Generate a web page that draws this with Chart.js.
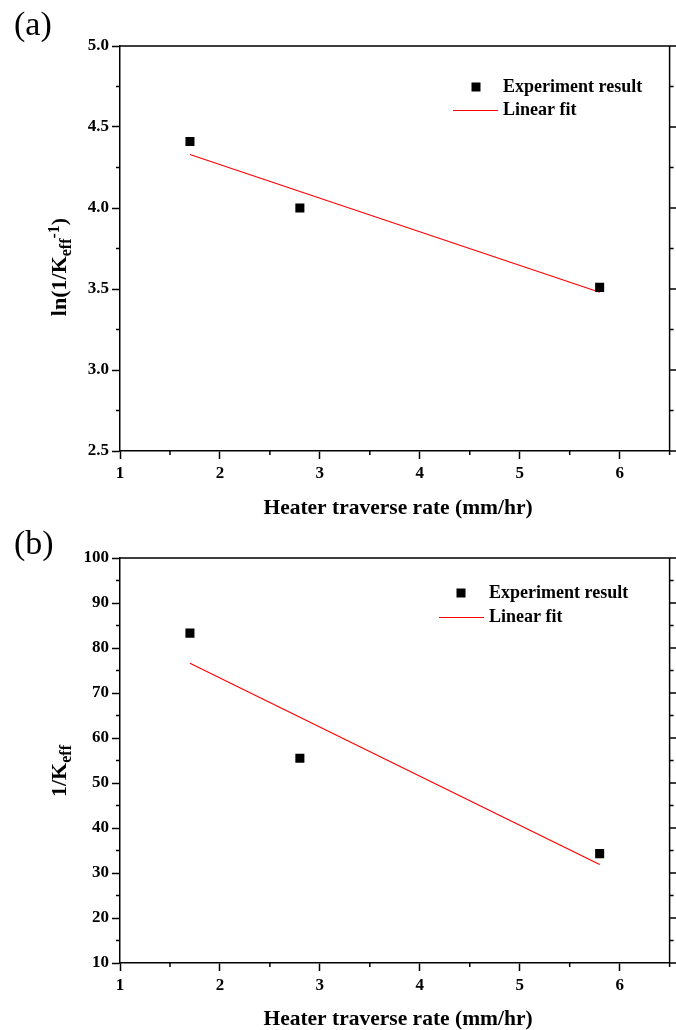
<!DOCTYPE html>
<html>
<head>
<meta charset="utf-8">
<script src="https://cdn.jsdelivr.net/npm/chart.js@4/dist/chart.umd.min.js"></script>
<style>
  body { margin: 0; background: #fff; }
  #wrap { position: relative; width: 676px; height: 1030px; }
  canvas { position: absolute; left: 0; }
</style>
</head>
<body>
<div id="wrap">
  <canvas id="chartA" width="676" height="522" style="top:0"></canvas>
  <canvas id="chartB" width="676" height="508" style="top:522px"></canvas>
</div>
<script>
// values

var rateA = [1.7, 2.8, 5.8];
var lnKA = [4.41, 4.00, 3.51];
var fitRateA = [1.7, 5.8];
var fitLnKA = [4.33, 3.48];

var rateB = [1.7, 2.8, 5.8];
var invKB = [83.3, 55.5, 34.3];
var fitRateB = [1.7, 5.8];
var fitInvKB = [76.6, 31.9];

var xTitle = "Heater traverse rate (mm/hr)";
var seriesLabels = ["Experiment result", "Linear fit"];

var SERIF = "'Liberation Serif', 'Times New Roman', serif";
Chart.defaults.font.family = SERIF;
Chart.defaults.color = "#000";

function pts(xs, ys) {
  return xs.map(function (x, i) { return { x: x, y: ys[i] }; });
}

// frame on top/right plus minor ticks
var frameTicks = {
  id: "frameTicks",
  afterDraw: function (chart, args, o) {
    var ctx = chart.ctx, a = chart.chartArea, x = chart.scales.x, y = chart.scales.y;
    ctx.save();
    ctx.strokeStyle = "#000";
    ctx.lineWidth = 1.5;
    ctx.beginPath();
    ctx.moveTo(a.left, a.top); ctx.lineTo(a.right, a.top); ctx.lineTo(a.right, a.bottom);
    function each(scale, minor, major, fn) {
      var n = Math.round((scale.max - scale.min) / minor);
      for (var i = 0; i <= n; i++) {
        var v = scale.min + i * minor;
        var isMajor = Math.abs(v / major - Math.round(v / major)) < 1e-6;
        fn(scale.getPixelForValue(v), isMajor);
      }
    }
    each(x, o.xMinor, o.xMajor, function (p, big) {
      if (!big) { ctx.moveTo(p, a.bottom); ctx.lineTo(p, a.bottom + 4); }
    });
    each(y, o.yMinor, o.yMajor, function (p, big) {
      var l = big ? 8 : 4;
      if (!big) { ctx.moveTo(a.left, p); ctx.lineTo(a.left - l, p); }
      ctx.moveTo(a.right, p); ctx.lineTo(a.right + l, p);
    });
    ctx.stroke();
    ctx.restore();
  }
};

// axis titles with sub/superscripts, panel tag and legend
var decor = {
  id: "decor",
  afterDraw: function (chart, args, o) {
    var ctx = chart.ctx;
    ctx.save();
    ctx.fillStyle = "#000";

    ctx.font = "34px " + SERIF;
    ctx.textBaseline = "alphabetic";
    ctx.fillText(o.tag, 14, o.tagY);

    ctx.font = "bold 21.5px " + SERIF;
    ctx.textAlign = "center";
    ctx.fillText(xTitle, o.xTitleX, o.xTitleY);
    ctx.textAlign = "left";

    // rotated y title
    var parts = o.yTitle, w = 0;
    parts.forEach(function (p) {
      ctx.font = "bold " + (p.sub || p.sup ? 16 : 22) + "px " + SERIF;
      p.w = ctx.measureText(p.t).width;
      w += p.w;
    });
    ctx.translate(o.yTitleX, o.yTitleY);
    ctx.rotate(-Math.PI / 2);
    var cx = -w / 2;
    parts.forEach(function (p) {
      ctx.font = "bold " + (p.sub || p.sup ? 16 : 22) + "px " + SERIF;
      ctx.fillText(p.t, cx, p.sub ? 5 : (p.sup ? -7 : 0));
      cx += p.w;
    });
    ctx.setTransform(1, 0, 0, 1, 0, 0);

    // legend
    var ds = chart.data.datasets;
    var L = o.legend;
    ctx.font = "bold 18px " + SERIF;
    ctx.textBaseline = "middle";
    ctx.fillStyle = ds[0].backgroundColor;
    ctx.fillRect(L.markX - 4.5, L.row1 - 4.5, 9, 9);
    ctx.strokeStyle = ds[1].borderColor;
    ctx.lineWidth = ds[1].borderWidth;
    ctx.beginPath();
    ctx.moveTo(L.lineX0, L.row2); ctx.lineTo(L.lineX1, L.row2);
    ctx.stroke();
    ctx.fillStyle = "#000";
    ctx.fillText(ds[0].label, L.textX, L.row1);
    ctx.fillText(ds[1].label, L.textX, L.row2);
    ctx.restore();
  }
};

function makeChart(id, cfg) {
  return new Chart(document.getElementById(id), {
    type: "scatter",
    data: {
      datasets: [
        {
          label: seriesLabels[0],
          data: cfg.points,
          pointStyle: "rect",
          pointRadius: 6.4,
          pointHoverRadius: 6.4,
          backgroundColor: "#000",
          borderColor: "#000",
          borderWidth: 0,
          order: 1
        },
        {
          label: seriesLabels[1],
          data: cfg.fit,
          showLine: true,
          pointRadius: 0,
          borderColor: "#ff0000",
          borderWidth: 1.2,
          order: 2
        }
      ]
    },
    options: {
      responsive: false,
      animation: false,
      devicePixelRatio: 1,
      layout: { padding: { top: cfg.padTop, right: 5, left: 0, bottom: 0 } },
      plugins: {
        legend: { display: false },
        tooltip: { enabled: false },
        frameTicks: { xMinor: 0.5, xMajor: 1, yMinor: cfg.yMinor, yMajor: cfg.yStep },
        decor: cfg.decor
      },
      scales: {
        x: {
          type: "linear",
          min: 1, max: 6.5,
          afterFit: function (s) { s.height = cfg.xHeight; },
          border: { display: true, color: "#000", width: 1.5 },
          grid: { drawOnChartArea: false, drawTicks: true, tickLength: 8, tickWidth: 1.5, color: "#000" },
          ticks: {
            stepSize: 1, includeBounds: false, padding: 4,
            font: { size: 17, weight: "bold" }, color: "#000",
            callback: function (v) { return v; }
          }
        },
        y: {
          type: "linear",
          min: cfg.yMin, max: cfg.yMax,
          afterFit: function (s) { s.width = 120; },
          border: { display: true, color: "#000", width: 1.5 },
          grid: { drawOnChartArea: false, drawTicks: true, tickLength: 8, tickWidth: 1.5, color: "#000" },
          ticks: {
            stepSize: cfg.yStep, padding: 3,
            font: { size: 17, weight: "bold" }, color: "#000",
            callback: cfg.yFormat
          }
        }
      }
    },
    plugins: [frameTicks, decor]
  });
}

var chartA = makeChart("chartA", {
  points: pts(rateA, lnKA),
  fit: pts(fitRateA, fitLnKA),
  padTop: 46, xHeight: 71,
  yMin: 2.5, yMax: 5.0, yStep: 0.5, yMinor: 0.25,
  yFormat: function (v) { return v.toFixed(1); },
  decor: {
    tag: "(a)", tagY: 35,
    xTitleX: 398, xTitleY: 514,
    yTitleX: 66, yTitleY: 267,
    yTitle: [{ t: "ln(1/K" }, { t: "eff", sub: true }, { t: "-1", sup: true }, { t: ")" }],
    legend: { markX: 476, lineX0: 453, lineX1: 498, textX: 503, row1: 87, row2: 110.5 }
  }
});

var chartB = makeChart("chartB", {
  points: pts(rateB, invKB),
  fit: pts(fitRateB, fitInvKB),
  padTop: 36, xHeight: 67,
  yMin: 10, yMax: 100, yStep: 10, yMinor: 5,
  yFormat: function (v) { return v; },
  decor: {
    tag: "(b)", tagY: 32,
    xTitleX: 398, xTitleY: 503,
    yTitleX: 66, yTitleY: 249,
    yTitle: [{ t: "1/K" }, { t: "eff", sub: true }],
    legend: { markX: 461, lineX0: 439, lineX1: 484, textX: 489, row1: 71, row2: 95.5 }
  }
});
</script>
</body>
</html>
